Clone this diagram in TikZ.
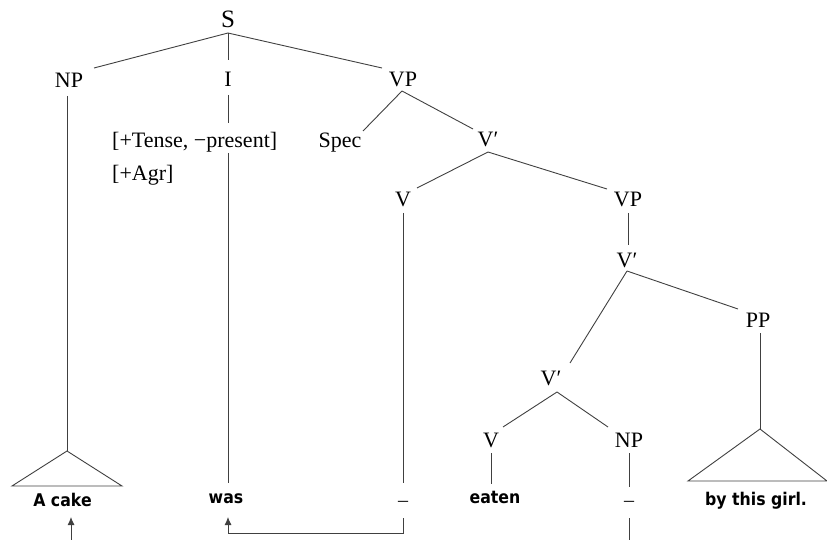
\documentclass[tikz,border=0pt]{standalone}
\usepackage{fontspec}
\setmainfont{Liberation Serif}
\newfontfamily\bsans[FakeStretch=0.9]{DejaVu Sans Bold}
\usetikzlibrary{calc,arrows.meta}
\tikzset{
  lab/.style={font=\fontsize{22}{26}\selectfont, inner sep=0pt, anchor=base},
  toplab/.style={font=\fontsize{25}{30}\selectfont, inner sep=0pt, anchor=base},
  word/.style={font=\bsans\fontsize{17.5}{21}\selectfont, inner sep=0pt, anchor=base},
  trace/.style={font=\fontsize{20}{24}\selectfont, inner sep=0pt, anchor=base},
  edge/.style={draw=black!75, line width=0.9pt},
  mover/.style={edge, -{Latex[length=8pt,width=7pt]}}
}
\begin{document}
\begin{tikzpicture}[x=1pt,y=-1pt]
\useasboundingbox (0,0) rectangle (827,540);
% labels
\node[toplab] (S) at (228,28) {S};
\node[lab] (NP) at (69,88) {NP};
\node[lab] (I) at (228,87) {I};
\node[lab] (VPa) at (403,87) {VP};
\node[lab, anchor=base west] (feata) at (112,148) {[+Tense, −present]};
\node[lab, anchor=base west] (featb) at (112,181) {[+Agr]};
\node[lab] (Spec) at (340,148) {Spec};
\node[lab] (Vba) at (488,147) {V′};
\node[lab] (Va) at (403,207) {V};
\node[lab] (VPb) at (628,207) {VP};
\node[lab] (Vbb) at (627,267) {V′};
\node[lab] (PP) at (758,327) {PP};
\node[lab] (Vbc) at (551,385) {V′};
\node[lab] (Vb) at (491,447) {V};
\node[lab] (NPb) at (629,447) {NP};
% words
\node[word] (acake) at (62.5,506) {A cake};
\node[word] (was) at (226,503) {was};
\node[trace] (tra) at (403,506) {–};
\node[word] (eaten) at (495,503) {eaten};
\node[trace] (trb) at (629,506) {–};
\node[word] (girl) at (756,505) {by this girl.};
% triangles
\coordinate (ta) at (67,451);
\coordinate (tb) at (760,429);
\draw[edge] (ta) -- (12,486) -- (122,486) -- cycle;
\draw[edge] (tb) -- (688,481) -- (827,481) -- cycle;
% free ends at the bottom edge
\coordinate (bota) at (71,540);
\coordinate (botb) at (629,540);
% connectors
\draw[edge] ($(S.base)+(0,5)$) -- ($(NP.base)+(25,-20)$);
\draw[edge] ($(S.base)+(0,5)$) -- ($(I.base)+(0,-27)$);
\draw[edge] ($(S.base)+(0,5)$) -- ($(VPa.base)+(-21,-19)$);
\draw[edge] ($(NP.base)+(-2,8)$) -- (ta);
\draw[edge] ($(I.base)+(0,8)$) -- ($(I.base)+(0,36)$);
\draw[edge] ($(I.base)+(0,66)$) -- ($(was.base)+(2,-20)$);
\draw[edge] ($(VPa.base)+(-1,4)$) -- ($(Spec.base)+(23,-17)$);
\draw[edge] ($(VPa.base)+(-1,4)$) -- ($(Vba.base)+(-15,-18)$);
\draw[edge] ($(Vba.base)+(0,5)$) -- ($(Va.base)+(14,-19)$);
\draw[edge] ($(Vba.base)+(0,5)$) -- ($(VPb.base)+(-21,-18)$);
\draw[edge] ($(Va.base)+(0,6)$) -- ($(tra.base)+(0,-23)$);
\draw[edge] ($(VPb.base)+(0,6)$) -- ($(Vbb.base)+(1,-22)$);
\draw[edge] ($(Vbb.base)+(0,4)$) -- ($(Vbc.base)+(19,-22)$);
\draw[edge] ($(Vbb.base)+(0,4)$) -- ($(PP.base)+(-20,-18)$);
\draw[edge] ($(PP.base)+(2,6)$) -- (tb);
\draw[edge] ($(Vbc.base)+(6,7)$) -- ($(Vb.base)+(12,-20)$);
\draw[edge] ($(Vbc.base)+(6,7)$) -- ($(NPb.base)+(-21,-20)$);
\draw[edge] ($(Vb.base)+(0,6)$) -- ($(eaten.base)+(-4,-19)$);
\draw[edge] ($(NPb.base)+(0,6)$) -- ($(trb.base)+(0,-19)$);
\draw[edge] ($(trb.base)+(0,12)$) -- (botb);
\draw[mover] (bota) -- ($(acake.base)+(8.5,11)$);
\draw[mover] ($(tra.base)+(0,12)$) -- ($(tra.base)+(0,27)$) -| ($(was.base)+(2,14)$);
\end{tikzpicture}
\end{document}
